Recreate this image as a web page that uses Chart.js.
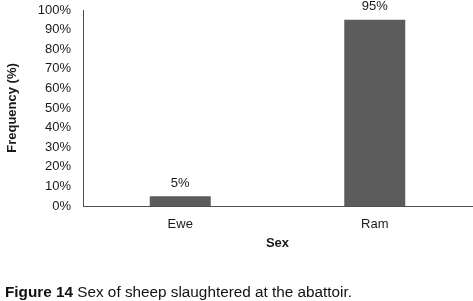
<!DOCTYPE html>
<html>
<head>
<meta charset="utf-8">
<script src="https://cdn.jsdelivr.net/npm/chart.js@4"></script>
<style>
  html, body { margin: 0; padding: 0; background: #fff; }
  #wrap { position: relative; width: 473px; height: 301px; overflow: hidden; }
  #c { position: absolute; left: 0; top: 0; }
  #caption { position: absolute; left: 5px; top: 283px; font-family: "Liberation Sans", Arial, sans-serif; font-size: 15.3px; color: #111; white-space: nowrap; line-height: 17px; }
</style>
</head>
<body>
<div id="wrap">
  <canvas id="c" width="473" height="301"></canvas>
  <div id="caption"><b>Figure 14</b> Sex of sheep slaughtered at the abattoir.</div>
</div>
<script>
const categories = ["Ewe", "Ram"];
const frequencyPct = [5, 95];
const xTitle = "Sex";
const yTitle = "Frequency (%)";

const FONT = "'Liberation Sans', Arial, sans-serif";
const TEXT = "#1a1a1a";
const AXIS = "#4a5258";

const valueLabels = {
  id: 'valueLabels',
  afterDatasetsDraw(chart) {
    const ctx = chart.ctx;
    const meta = chart.getDatasetMeta(0);
    ctx.save();
    ctx.font = "13px " + FONT;
    ctx.fillStyle = TEXT;
    ctx.textAlign = 'center';
    ctx.textBaseline = 'middle';
    meta.data.forEach((bar, i) => {
      ctx.fillText(frequencyPct[i] + '%', bar.x, bar.y - 13);
    });
    ctx.restore();
  }
};

new Chart(document.getElementById('c'), {
  type: 'bar',
  data: {
    labels: categories,
    datasets: [{
      data: frequencyPct,
      backgroundColor: '#5c5c5c',
      borderWidth: 0,
      categoryPercentage: 1,
      barPercentage: 0.3136
    }]
  },
  options: {
    responsive: false,
    animation: false,
    devicePixelRatio: 1,
    layout: { padding: { left: 5, top: 10, right: 1, bottom: 50 } },
    plugins: { legend: { display: false }, tooltip: { enabled: false } },
    scales: {
      x: {
        grid: { display: false, drawTicks: false },
        border: { display: true, color: AXIS, width: 1 },
        ticks: { color: TEXT, font: { family: FONT, size: 13 }, padding: 11 },
        title: { display: true, text: xTitle, color: TEXT, font: { family: FONT, size: 13, weight: 'bold' }, padding: 0 },
        afterFit(scale) { scale.height = 45; scale.paddingLeft = 0; scale.paddingRight = 0; }
      },
      y: {
        min: 0, max: 100,
        grid: { display: false, drawTicks: false },
        border: { display: true, color: AXIS, width: 1 },
        ticks: { stepSize: 10, color: TEXT, font: { family: FONT, size: 13 }, padding: 12, callback: v => v + '%' },
        title: { display: true, text: yTitle, color: TEXT, font: { family: FONT, size: 13, weight: 'bold' }, padding: 0 },
        afterFit(scale) { scale.width = 78; scale.paddingTop = 0; scale.paddingBottom = 0; }
      }
    }
  },
  plugins: [valueLabels]
});
</script>
</body>
</html>
